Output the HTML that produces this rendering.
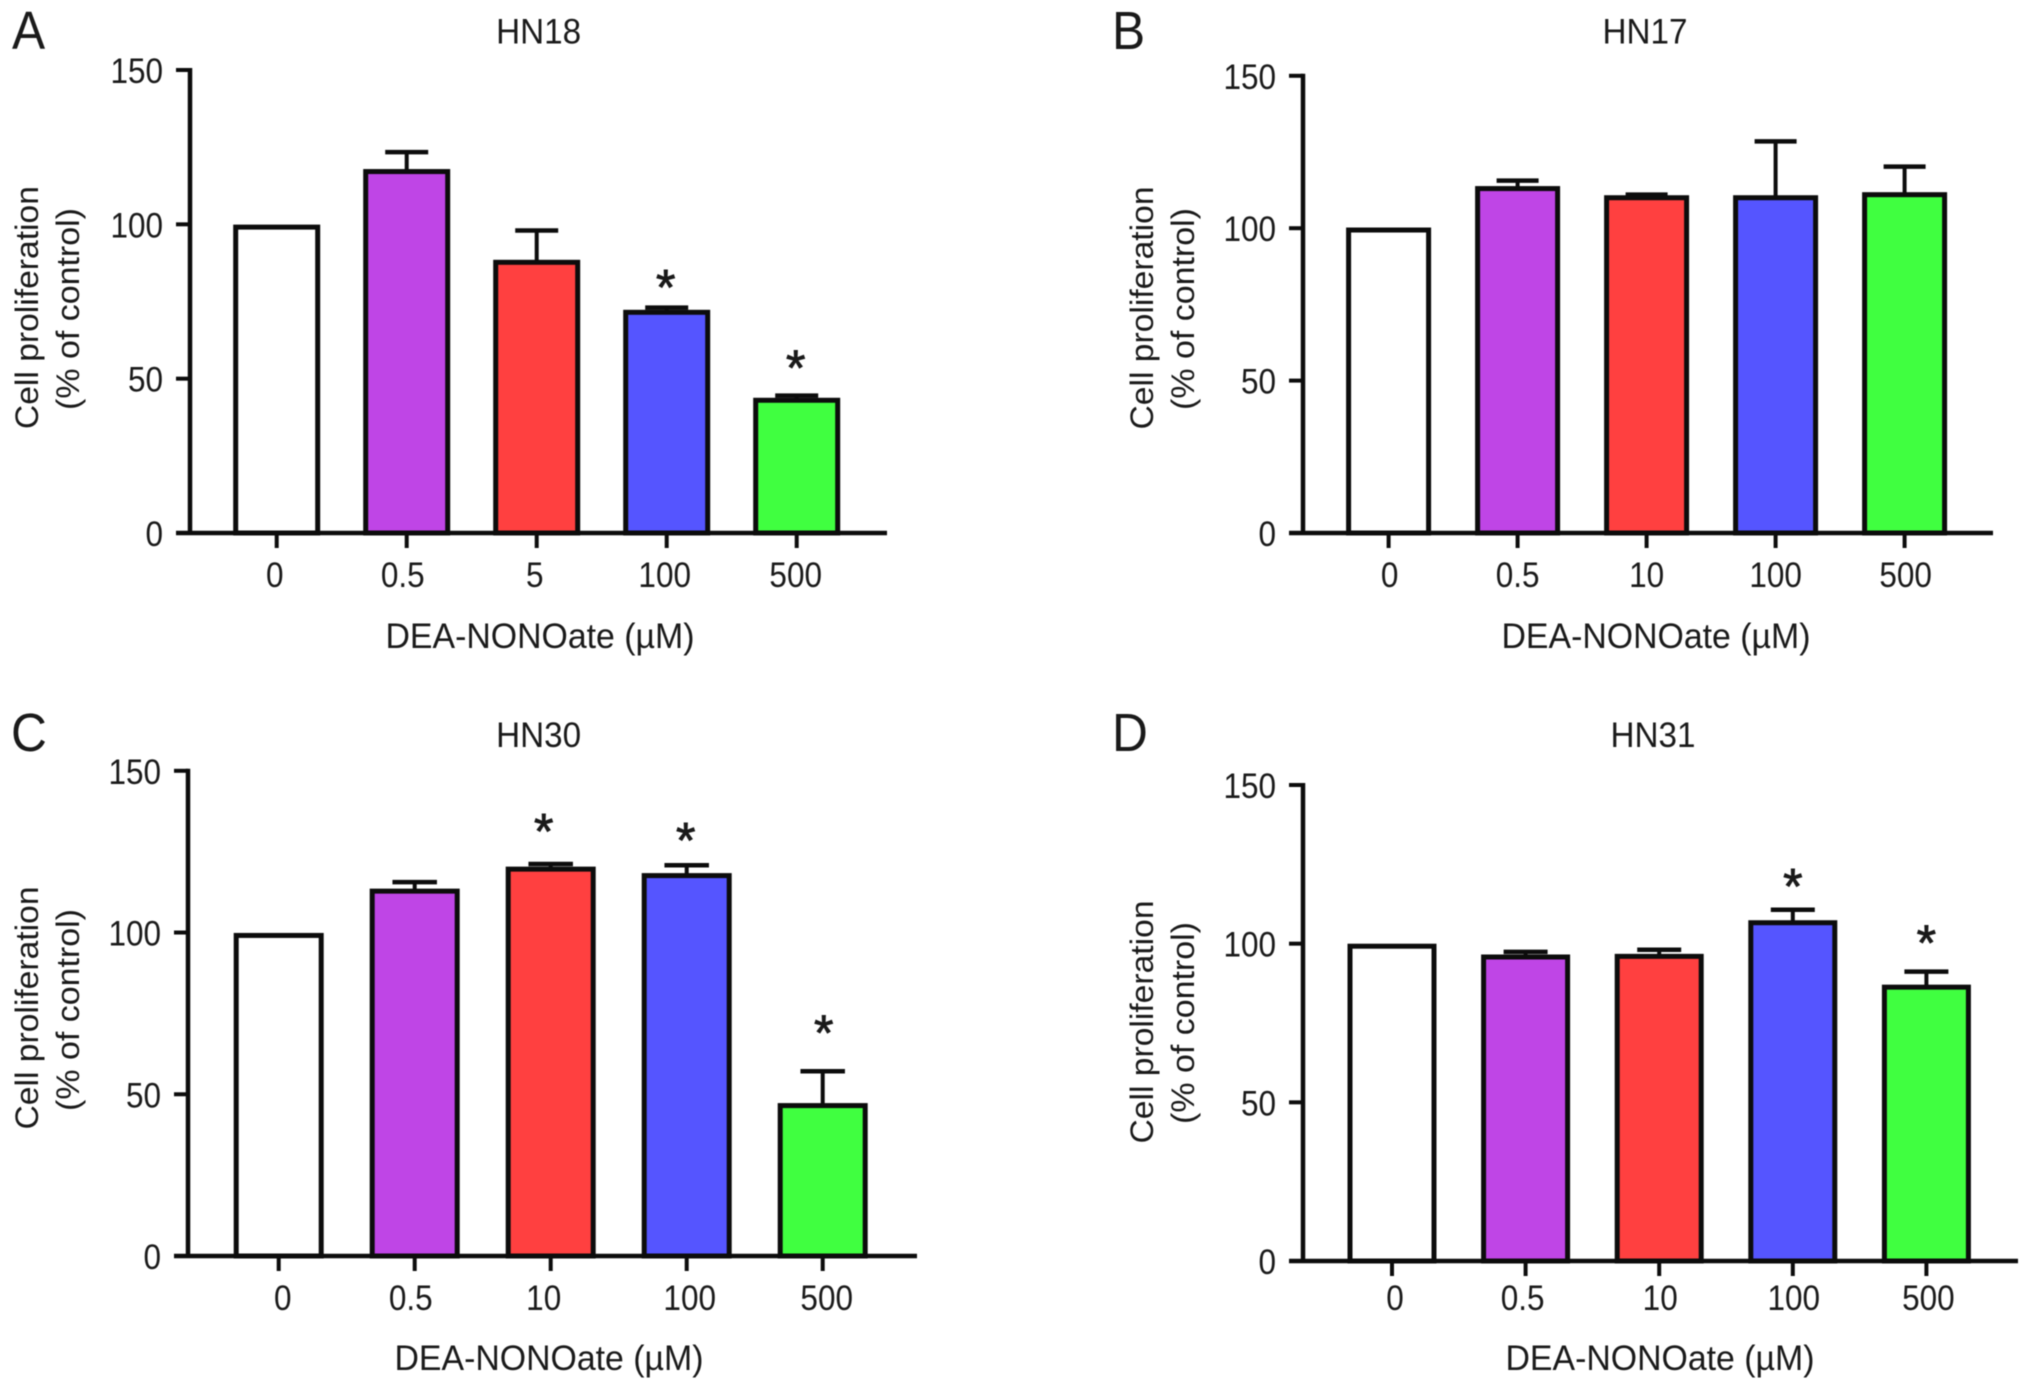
<!DOCTYPE html>
<html lang="en">
<head>
<meta charset="utf-8">
<title>Cell proliferation by DEA-NONOate dose</title>
<style>
html,body{margin:0;padding:0;background:#fff;width:2032px;height:1390px;overflow:hidden}
svg{display:block;filter:blur(.5px)}
text{font-family:"Liberation Sans",sans-serif;fill:#1a1a1a}
</style>
</head>
<body>
<svg id="figure" xmlns="http://www.w3.org/2000/svg" width="2032" height="1390" viewBox="0 0 2032 1390"></svg>
<script>
// ---- Data ----
const yTicks = [0, 50, 100, 150];
const barColors = ['#ffffff', '#bf45e6', '#ff4040', '#5555ff', '#40ff40'];

const titleA = 'HN18';
const categoriesA = ['0', '0.5', '5', '100', '500'];
const valuesA = [99.1, 117.1, 87.7, 71.5, 43];
const errorsA = [0, 6.3, 10.3, 1.5, 1.5];
const starLiftA = [0, 0, 0, 9.2, 11.6];

const titleB = 'HN17';
const categoriesB = ['0', '0.5', '10', '100', '500'];
const valuesB = [99.4, 113, 110, 110, 111];
const errorsB = [0, 2.6, 1, 18.5, 9.2];
const starLiftB = [0, 0, 0, 0, 0];

const titleC = 'HN30';
const categoriesC = ['0', '0.5', '10', '100', '500'];
const valuesC = [99.1, 112.8, 119.6, 117.6, 46.5];
const errorsC = [0, 2.8, 1.6, 3.2, 10.6];
const starLiftC = [0, 0, 12.5, 10.2, 14.3];

const titleD = 'HN31';
const categoriesD = ['0', '0.5', '10', '100', '500'];
const valuesD = [99.2, 95.8, 96, 106.6, 86.3];
const errorsD = [0, 1.6, 2.1, 4.1, 4.9];
const starLiftD = [0, 0, 0, 9.9, 11.6];

// ---- Panel frames (layout only) ----
const panels = [
  {id:'a', letter:'A', letterX:12, letterY:49, title:titleA, cats:categoriesA, vals:valuesA, errs:errorsA, lift:starLiftA,
   axisX:190, top:70, base:533, right:887, first:276.7, step:130, barW:82, nudge:[-2,-4,-2,-2,-1], starNudge:[0,0,0,0,0],
   titleX:538.6, titleY:43.5, xTitleX:540, xTitleY:648, yl1X:38, yl2X:79, yl1Y:307.6, yl2Y:309, labelBase:587},
  {id:'b', letter:'B', letterX:1112, letterY:49, title:titleB, cats:categoriesB, vals:valuesB, errs:errorsB, lift:starLiftB,
   axisX:1303, top:75.8, base:533, right:1993, first:1388.6, step:129, barW:80, nudge:[1,0,0,0,1], starNudge:[0,0,0,0,0],
   titleX:1645, titleY:43.5, xTitleX:1656, xTitleY:648, yl1X:1153, yl2X:1194, yl1Y:308, yl2Y:309, labelBase:587},
  {id:'c', letter:'C', letterX:11, letterY:751, title:titleC, cats:categoriesC, vals:valuesC, errs:errorsC, lift:starLiftC,
   axisX:188, top:770.8, base:1256, right:917, first:278.7, step:136, barW:85, nudge:[4,-4,-7,3,4], starNudge:[0,0,-6,0,2],
   titleX:538.6, titleY:747, xTitleX:549, xTitleY:1370, yl1X:38, yl2X:79, yl1Y:1008, yl2Y:1010, labelBase:1310},
  {id:'d', letter:'D', letterX:1112, letterY:751, title:titleD, cats:categoriesD, vals:valuesD, errs:errorsD, lift:starLiftD,
   axisX:1303, top:785, base:1261, right:2018, first:1392, step:133.6, barW:84, nudge:[3,-3,1,1,2], starNudge:[0,0,0,1,1],
   titleX:1653, titleY:747, xTitleX:1660, xTitleY:1370, yl1X:1153, yl2X:1194, yl1Y:1022, yl2Y:1023, labelBase:1310}
];

const NS = 'http://www.w3.org/2000/svg';
const root = document.getElementById('figure');
const INK = '#0c0c0c';

function make(parent, tag, attrs, content) {
  const el = document.createElementNS(NS, tag);
  for (const k in attrs) el.setAttribute(k, attrs[k]);
  if (content !== undefined) el.textContent = content;
  parent.appendChild(el);
  return el;
}
// Tick labels in the figure are tall and slightly condensed.
function condensed(x, y) { return 'translate(' + x + ',' + y + ') scale(.9,1)'; }

panels.forEach(function (p) {
  const yScale = function (v) { return p.base - v * (p.base - p.top) / 150; };
  const xScale = function (i) { return p.first + i * p.step; };

  const g = make(root, 'g', {});
  
  

  const letter = make(g, 'text', {transform: 'translate(' + p.letterX + ',' + p.letterY + ') scale(.92,1)', 'font-size': 54}, p.letter);
  
  

  const title = make(g, 'text', {x: p.titleX, y: p.titleY, 'font-size': 35, 'text-anchor': 'middle', textLength: 85, lengthAdjust: 'spacingAndGlyphs'}, p.title);
  
  

  // bars, error bars, significance stars
  p.vals.forEach(function (v, i) {
    const cx = xScale(i);
    const yTop = yScale(v);
    const yErr = yScale(v + p.errs[i]);

    if (p.errs[i] > 0) {
      const stem = make(g, 'line', {x1: cx, x2: cx, y1: yTop, y2: yErr, stroke: INK, 'stroke-width': 4});
      
      
      const cap = make(g, 'line', {x1: cx - p.barW / 4 - 1, x2: cx + p.barW / 4 + 1, y1: yErr, y2: yErr, stroke: INK, 'stroke-width': 4.5});
      
      
    }

    const bar = make(g, 'rect', {x: cx - p.barW / 2, y: yTop, width: p.barW, height: p.base - yTop, fill: barColors[i], stroke: INK, 'stroke-width': 5});
    
    

    if (p.lift[i] > 0) {
      const star = make(g, 'text', {x: cx - 1 + p.starNudge[i], y: yScale(v + p.errs[i] + p.lift[i]) + 25, 'font-size': 50, 'text-anchor': 'middle', stroke: '#1a1a1a', 'stroke-width': 0.9}, '*');
      
      
    }

    const tick = make(g, 'line', {x1: cx, x2: cx, y1: p.base, y2: p.base + 15, stroke: INK, 'stroke-width': 4});
    
    

    const lab = make(g, 'text', {transform: condensed(cx + p.nudge[i], p.labelBase), 'font-size': 35, 'text-anchor': 'middle'}, p.cats[i]);
    
    
  });

  // axes
  const yAxis = make(g, 'line', {x1: p.axisX, x2: p.axisX, y1: p.top - 2, y2: p.base + 2, stroke: INK, 'stroke-width': 4.5});
  
  
  const xAxis = make(g, 'line', {x1: p.axisX - 14, x2: p.right, y1: p.base, y2: p.base, stroke: INK, 'stroke-width': 4.5});
  
  

  yTicks.forEach(function (t) {
    const y = yScale(t);
    const tick = make(g, 'line', {x1: p.axisX - 14, x2: p.axisX, y1: y, y2: y, stroke: INK, 'stroke-width': 4});
    
    
    const lab = make(g, 'text', {transform: condensed(p.axisX - 27, y + 13), 'font-size': 35, 'text-anchor': 'end'}, String(t));
    
    
  });

  const xTitle = make(g, 'text', {x: p.xTitleX, y: p.xTitleY, 'font-size': 35, 'text-anchor': 'middle', textLength: 309, lengthAdjust: 'spacingAndGlyphs'}, 'DEA-NONOate (\u00B5M)');
  
  

  const yl1 = make(g, 'text', {transform: 'translate(' + p.yl1X + ',' + p.yl1Y + ') rotate(-90)', 'font-size': 32, 'text-anchor': 'middle', textLength: 243, lengthAdjust: 'spacingAndGlyphs'}, 'Cell proliferation');
  
  
  const yl2 = make(g, 'text', {transform: 'translate(' + p.yl2X + ',' + p.yl2Y + ') rotate(-90)', 'font-size': 32, 'text-anchor': 'middle', textLength: 202, lengthAdjust: 'spacingAndGlyphs'}, '(% of control)');
  
  
});
</script>
</body>
</html>
